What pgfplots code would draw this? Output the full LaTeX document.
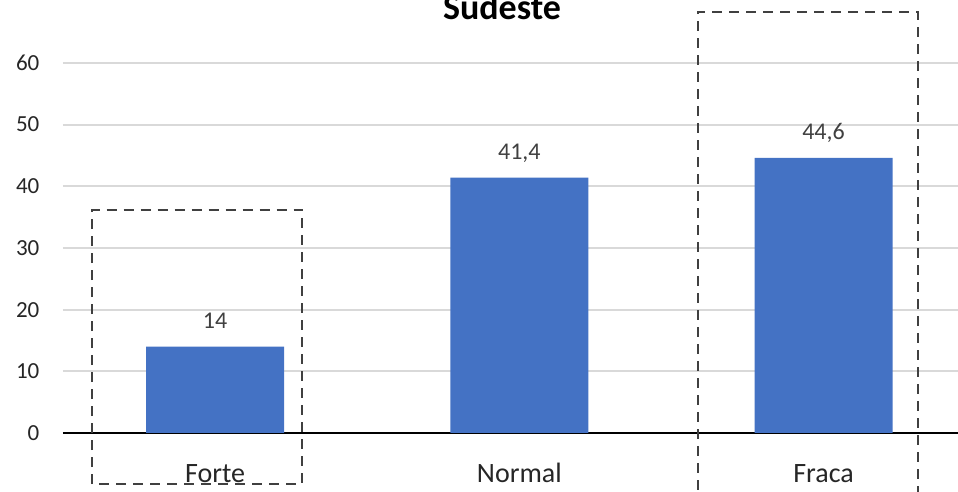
\documentclass[border=0pt]{standalone}
\usepackage{pgfplots}
\pgfplotsset{compat=1.18}
\usepackage{fontspec}
\setmainfont{Carlito}
\definecolor{barblue}{HTML}{4472C4}
\definecolor{gridgray}{HTML}{D9D9D9}
\definecolor{txtgray}{HTML}{404040}
\begin{document}
\begin{tikzpicture}
\begin{axis}[
  scale only axis,
  width=447.5pt, height=216.5pt,
  xmin=-0.5, xmax=2.442,
  ymin=0, ymax=70.2,
  axis x line=bottom, axis y line=left,
  x axis line style={-, black, line width=1pt},
  y axis line style={draw=none},
  tick style={draw=none},
  xtick=data,
  xticklabels={Forte, Normal, Fraca},
  ytick={0,10,...,60},
  ymajorgrids,
  grid style={gridgray, line width=1pt},
  /pgf/number format/assume math mode=true,
  yticklabel style={font=\fontsize{11.5pt}{13pt}\selectfont, text=black!85, anchor=east, inner sep=0pt, xshift=-9.5pt},
  xticklabel style={font=\fontsize{14pt}{16pt}\selectfont, text=black!85, anchor=base, inner sep=0pt, yshift=-22.5pt},
  clip=false,
  nodes near coords,
  point meta=explicit symbolic,
  nodes near coords style={font=\fontsize{12pt}{14pt}\selectfont, text=txtgray, anchor=base, inner sep=0pt, yshift=9pt},
]
\addplot[ybar, bar width=69pt, fill=barblue, draw=none] table[meta=lab] {
x y lab
0 14 14
1 41.4 41,4
2 44.6 44,6
};
\draw[txtgray, line width=1pt, dash pattern=on 5pt off 3.5pt] (axis cs:-0.404,-8.3) rectangle (axis cs:0.286,36.2);
\draw[txtgray, line width=1pt, dash pattern=on 5pt off 3.5pt] (axis cs:1.586,-12) rectangle (axis cs:2.309,68.3);
\node[font=\bfseries\fontsize{18pt}{20pt}\selectfont, anchor=base, inner sep=0pt] at (axis cs:0.943,67.1) {Sudeste};
\end{axis}
\pgfresetboundingbox
\useasboundingbox (current axis.south west) ++(-31.5pt,-29.5pt) rectangle (current axis.north east);
\end{tikzpicture}
\end{document}
